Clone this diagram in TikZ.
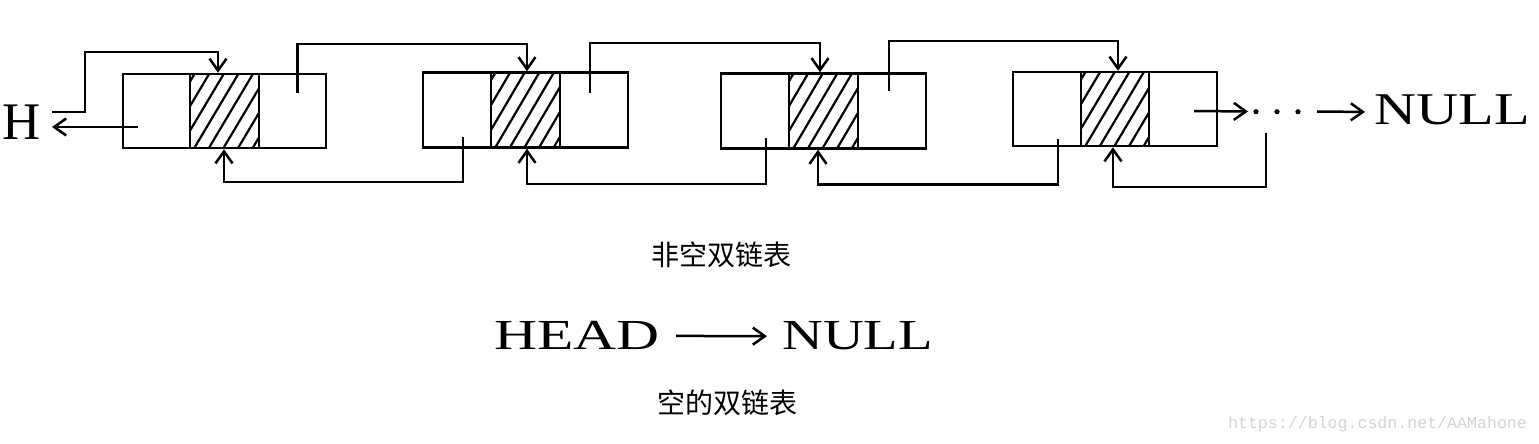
\documentclass[tikz,border=0pt]{standalone}
\usepackage{fontspec}
\setmainfont{Liberation Serif}
\newfontfamily\cjk{Noto Sans CJK SC}
\newfontfamily\wmfont{Liberation Mono}
\usetikzlibrary{arrows.meta,fit}
\definecolor{wmgray}{RGB}{212,212,208}
\tikzset{
  cell/.style={draw, line width=1.25pt, inner sep=0pt},
  link/.style={line width=1.25pt, -{Straight Barb[length=6pt,width=8.5pt,line width=1.25pt]}},
  hatchline/.style={line width=1.1pt},
  bigtext/.style={inner sep=0pt, anchor=base west},
}
\newcommand\hatchcell[4]{%
  \begin{scope}
    \clip (#1,#3) rectangle (#2,#4);
    \foreach \k in {-4,...,5} {\draw[hatchline] ({#1+4.3+14.6*\k},#4) -- ({#1+48.3+14.6*\k},#3);}
  \end{scope}}
\begin{document}
\begin{tikzpicture}[x=0.5pt,y=-0.5pt]
\useasboundingbox (0,0) rectangle (1539,444);
\fill[white] (0,0) rectangle (1539,444);

% hatching
\hatchcell{190}{259}{74}{148}
\hatchcell{491}{560}{72.5}{147.5}
\hatchcell{789}{858}{73.5}{148.5}
\hatchcell{1081}{1149}{72}{146}

% list nodes
\node[cell, fit={(123,74) (190,148)}] (n1a) {};
\node[cell, fit={(190,74) (259,148)}] (n1b) {};
\node[cell, fit={(259,74) (326,148)}] (n1c) {};
\node[cell, fit={(423,72.5) (491,147.5)}] (n2a) {};
\node[cell, fit={(491,72.5) (560,147.5)}] (n2b) {};
\node[cell, fit={(560,72.5) (628,147.5)}] (n2c) {};
\node[cell, fit={(721,73.5) (789,148.5)}] (n3a) {};
\node[cell, fit={(789,73.5) (858,148.5)}] (n3b) {};
\node[cell, fit={(858,73.5) (926,148.5)}] (n3c) {};
\node[cell, fit={(1013,72) (1081,146)}] (n4a) {};
\node[cell, fit={(1081,72) (1149,146)}] (n4b) {};
\node[cell, fit={(1149,72) (1217,146)}] (n4c) {};

% texts
\node[bigtext, font=\fontsize{26.4}{30}\selectfont] (H) at (2,140) {H};
\node[bigtext, font=\fontsize{22.7}{26}\selectfont] (null1) at (1374,125) {\scalebox{1.283}[1]{NULL}};
\node[bigtext, font=\fontsize{21.4}{25}\selectfont] (head) at (494,350) {\scalebox{1.39}[1]{HEAD}};
\node[bigtext, font=\fontsize{21.4}{25}\selectfont] (null2) at (782,350) {\scalebox{1.32}[1]{NULL}};
\node[font=\cjk\fontsize{14}{16}\selectfont] (cap1) at (721,255) {非空双链表};
\node[font=\cjk\fontsize{14}{16}\selectfont] (cap2) at (727.5,403) {空的双链表};
\node[font=\wmfont\fontsize{8.3}{10}\selectfont, text=wmgray] (wm) at (1377.5,424) {https://blog.csdn.net/AAMahone};

% dots
\node[inner sep=0pt, outer sep=0pt, fit={(1248,105) (1317,118)}] (dots) {};
\foreach \x in {1256,1277,1298} \fill (\x,111.7) circle[radius=1.3pt];

% connector start points
\coordinate (hout) at (52,112);
\coordinate (hin) at (52,127);
\coordinate (n1p) at (138,127);
\coordinate (n1n) at (297.7,93);
\coordinate (n2p) at (463,137);
\coordinate (n2n) at (590,93);
\coordinate (n3p) at (766,138);
\coordinate (n3n) at (889,91);
\coordinate (n4p) at (1058,139);
\coordinate (n4n) at (1194,111);
\coordinate (n5p) at (1266,133);

% connectors
\draw[link] (hout) -- (85,112) -- (85,52) -| ([xshift=-3.25pt]n1b.north);
\draw[link] (n1p) -- (hin);
\draw[link] (n1n) -- (297.7,44) -| ([xshift=0.75pt]n2b.north);
\draw[link] (n2p) -- (463,182) -| ([xshift=-0.25pt]n1b.south);
\draw[link] (n2n) -- (590,43) -| ([xshift=-1.75pt]n3b.north);
\draw[link] (n3p) -- (766,184) -| ([xshift=0.75pt]n2b.south);
\draw[link] (n3n) -- (889,41) -| ([xshift=1.5pt]n4b.north);
\draw[link] (n4p) -- (1058,184.5) -| ([xshift=-2.75pt]n3b.south);
\draw[link] (n5p) -- (1266,187) -| ([xshift=-1pt]n4b.south);
\draw[link] (n4n) -- (dots.west);
\draw[link] (dots.east) -- ([xshift=-4.5pt,yshift=-0.8pt]null1.west);
\draw[link] ([xshift=8pt]head.east) -- ([xshift=-7.5pt]null2.west);
\end{tikzpicture}
\end{document}
